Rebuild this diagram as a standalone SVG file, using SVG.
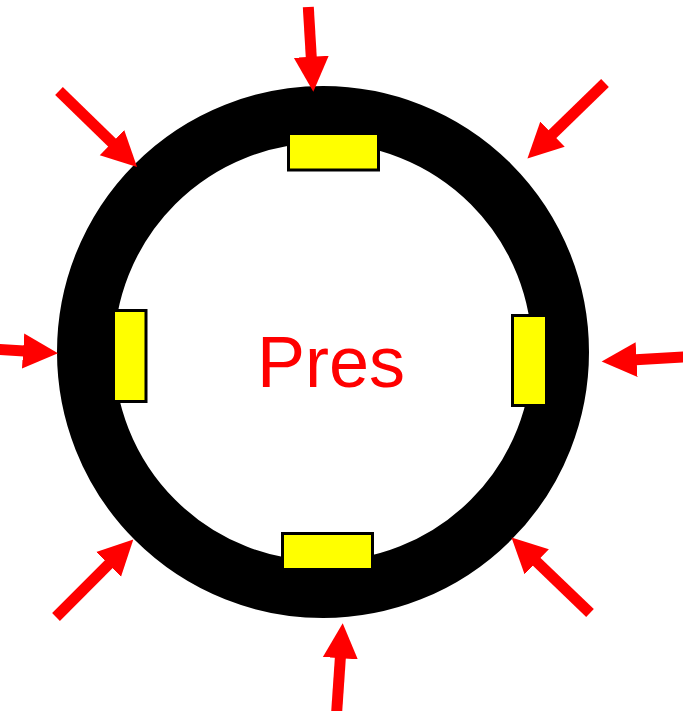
<svg xmlns="http://www.w3.org/2000/svg" width="683" height="711" viewBox="0 0 683 711">
<style>
.ring{fill:none;stroke:#000;stroke-width:57}
.pad{fill:#FFFF00;stroke:#000;stroke-width:3}
.arr{stroke:#FF0000;stroke-width:11;fill:none;marker-end:url(#head)}
.lbl{font-family:"Liberation Sans",Arial,sans-serif;font-size:72px;fill:#FF0000;text-anchor:middle}
</style>
<defs>
<marker id="head" markerUnits="userSpaceOnUse" markerWidth="36" markerHeight="36" refX="1" refY="17.5" orient="auto" viewBox="0 0 36 35">
<path d="M0,0 L35,17.5 L0,35 z" fill="#FF0000"/>
</marker>
</defs>
<rect width="683" height="711" fill="#fff"/>
<g id="ring"><circle class="ring" cx="323" cy="352" r="237.5"/></g>
<g id="pad-top"><rect class="pad" x="288.5" y="133.5" width="90" height="36.5"/></g>
<g id="pad-left"><rect class="pad" x="113.5" y="310.5" width="32.5" height="91"/></g>
<g id="pad-right"><rect class="pad" x="512.5" y="315.5" width="34" height="90"/></g>
<g id="pad-bottom"><rect class="pad" x="282.5" y="533.5" width="90" height="36"/></g>
<g id="label"><text class="lbl" x="331" y="387">Pres</text></g>
<g id="connectors">
<line class="arr" x1="308.3" y1="7" x2="311.3" y2="57.8"/>
<line class="arr" x1="59" y1="91" x2="112.7" y2="143.3"/>
<line class="arr" x1="605" y1="83" x2="551.8" y2="134.8"/>
<line class="arr" x1="-2" y1="349.4" x2="24.1" y2="351.1"/>
<line class="arr" x1="685" y1="356.9" x2="635.6" y2="359.7"/>
<line class="arr" x1="56" y1="617" x2="109.3" y2="563.6"/>
<line class="arr" x1="590" y1="613" x2="536" y2="561.1"/>
<line class="arr" x1="336.6" y1="713" x2="340.4" y2="657.2"/>
</g>
</svg>
